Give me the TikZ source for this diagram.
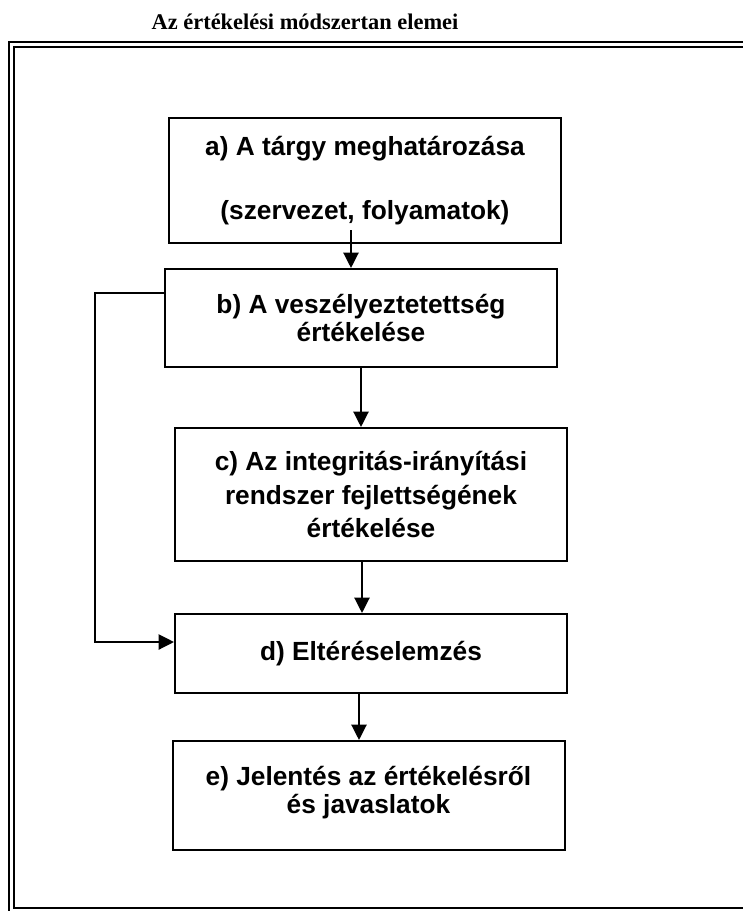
\documentclass[tikz,border=0pt]{standalone}
\usepackage{fontspec}
\setmainfont{Liberation Sans}
\newfontfamily\titlefont{Liberation Serif}
\usepackage{tikz}
\usetikzlibrary{shapes}
\usetikzlibrary{positioning}
\usetikzlibrary{arrows.meta}

\begin{document}
\begin{tikzpicture}[x=0.75pt,y=-0.75pt,
  doboz/.style={draw,line width=1.5pt,minimum width=392*0.75pt,inner sep=0pt,align=center,
    font=\bfseries\fontsize{19.7}{20.6}\selectfont},
  nyil/.style={-{Triangle[length=11.5pt,width=11.3pt]},line width=1.5pt}]
\clip (0,0) rectangle (743,911);
% kettos keret
\draw[line width=1.9pt] (9,42) rectangle (800,1000);
\draw[line width=1.5pt] (13.5,47.3) rectangle (795,908);
\node[font=\titlefont\bfseries\fontsize{16.8}{20}\selectfont,anchor=base] (cim) at (305,29) {Az értékelési módszertan elemei};
% dobozok
\node[doboz,minimum height=125*0.75pt] (a) at (365,180.5) {a) A tárgy meghatározása\\[28pt](szervezet, folyamatok)};
\node[doboz,minimum height=98*0.75pt] (b) at (361,318) {b) A veszélyeztetettség\\értékelése};
\node[doboz,minimum height=133*0.75pt,font=\bfseries\fontsize{19.7}{25}\selectfont] (c) at (371,494.5) {c) Az integritás-irányítási\\rendszer fejlettségének\\értékelése};
\node[doboz,minimum height=79*0.75pt] (d) at (371,653.5) {d) Eltéréselemzés};
\node[doboz,minimum height=109*0.75pt] (e) at (368.5,795.5) {e) Jelentés az értékelésről\\és javaslatok\\[-12pt]};
% nyilak
\coordinate (ab) at (351,230);
\coordinate (bc) at (361,0);
\coordinate (cd) at (362,0);
\coordinate (de) at (359,0);
\draw[nyil] (ab) -- (b.north -| ab);
\draw[nyil] (b.south -| bc) -- (c.north -| bc);
\draw[nyil] (c.south -| cd) -- (d.north -| cd);
\draw[nyil] (d.south -| de) -- (e.north -| de);
% visszacsatolas
\coordinate (fb) at (95,293);
\coordinate (fd) at (95,642);
\draw[nyil] (b.west |- fb) -- (fb) -- (fd) -- (d.west |- fd);
\end{tikzpicture}
\end{document}
